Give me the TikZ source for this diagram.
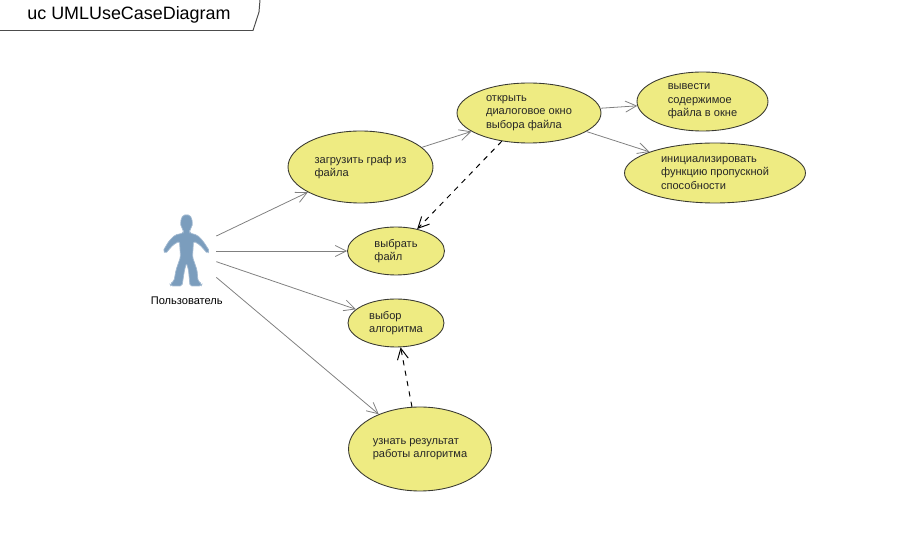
\documentclass[tikz,border=0pt]{standalone}
\usepackage{fontspec}
\setmainfont{Liberation Sans}
\usepackage{tikz}
\usetikzlibrary{positioning,arrows.meta,shapes.geometric}
\definecolor{ucfill}{HTML}{EEEB82}
\definecolor{ucline}{HTML}{3A3A32}
\definecolor{actorblue}{HTML}{7B9DBD}

\begin{document}
\begin{tikzpicture}[
  x=0.02cm, y=-0.02cm,
  uc/.style={draw=ucline, fill=ucfill, ellipse, inner sep=0pt, line width=0.5pt,
              font=\fontsize{6.3}{7.6}\selectfont, align=left, text=black!85,
              execute at begin node={\rule{0pt}{7.4pt}}},
  assoc/.style={-{Straight Barb[length=2.2mm,width=2.2mm]}, draw=black!50, line width=0.45pt},
  dep/.style={-{Straight Barb[length=2.2mm,width=2.2mm]}, dashed, black, line width=0.55pt}
]
  \useasboundingbox (0,0) rectangle (900,550);
  % Frame tab
  \draw[draw=black!70, line width=0.55pt] (0,30.5) -- (253,30.5) -- (259,12) -- (260,0);
  \node[font=\fontsize{10.2}{12}\selectfont] (title) at (129,15) {uc UMLUseCaseDiagram};
  % Actor figure
  \fill[actorblue, draw=actorblue!70, line width=0.4pt, rounded corners=1pt]
    (183.5,230) .. controls (179,225) and (181,215) .. (186.5,215)
    .. controls (192,215) and (194,225) .. (189.5,230)
    -- (189.5,233) -- (197,235) -- (203,241) -- (209.5,251) -- (207.5,253.5) -- (200,245) -- (193.5,241)
    -- (192.5,257) -- (197,270) -- (198,281) -- (202,284) -- (201,286) -- (190,286) -- (188.5,270) -- (186.5,263)
    -- (184.5,270) -- (182,286) -- (171,286) -- (170,284) -- (174,281) -- (176,270) -- (180.5,257)
    -- (179.5,241) -- (173,245) -- (165.5,253.5) -- (163,251) -- (169,241) -- (175,235) -- (183.5,233) -- cycle;
  \node[minimum width=1.24cm, minimum height=1.4cm, inner sep=0pt] (user) at (185,251) {};
  \node[font=\fontsize{6.3}{7.4}\selectfont, below=2.6pt of user, xshift=1pt] (userlbl) {Пользователь};
  % Use cases
  \node[uc, minimum width=2.9cm,  minimum height=1.44cm] (load)   at (360.5,167) {загрузить граф из\\файла};
  \node[uc, minimum width=2.88cm, minimum height=1.2cm]  (open)   at (529,113)   {открыть\\диалоговое окно\\выбора файла};
  \node[uc, minimum width=2.62cm, minimum height=1.18cm] (show)   at (702.5,101.5) {вывести\\содержимое\\файла в окне};
  \node[uc, minimum width=3.62cm, minimum height=1.2cm]  (init)   at (715,173)   {инициализировать\\функцию пропускной\\способности};
  \node[uc, minimum width=1.94cm, minimum height=0.96cm] (pick)   at (396,251)   {выбрать\\файл};
  \node[uc, minimum width=1.92cm, minimum height=0.96cm] (algo)   at (396,323)   {выбор\\алгоритма};
  \node[uc, minimum width=2.86cm, minimum height=1.68cm] (result) at (420,449)   {узнать результат\\работы алгоритма};
  % Associations
  \draw[assoc] (user) -- (load);
  \draw[assoc] (user) -- (pick);
  \draw[assoc] (user) -- (algo);
  \draw[assoc] (user) -- (result);
  \draw[assoc] (load) -- (open);
  \draw[assoc] (open) -- (show);
  \draw[assoc] (open) -- (init);
  % Dependencies
  \draw[dep] (open) -- (pick);
  \draw[dep] (result) -- (algo);
\end{tikzpicture}
\end{document}
